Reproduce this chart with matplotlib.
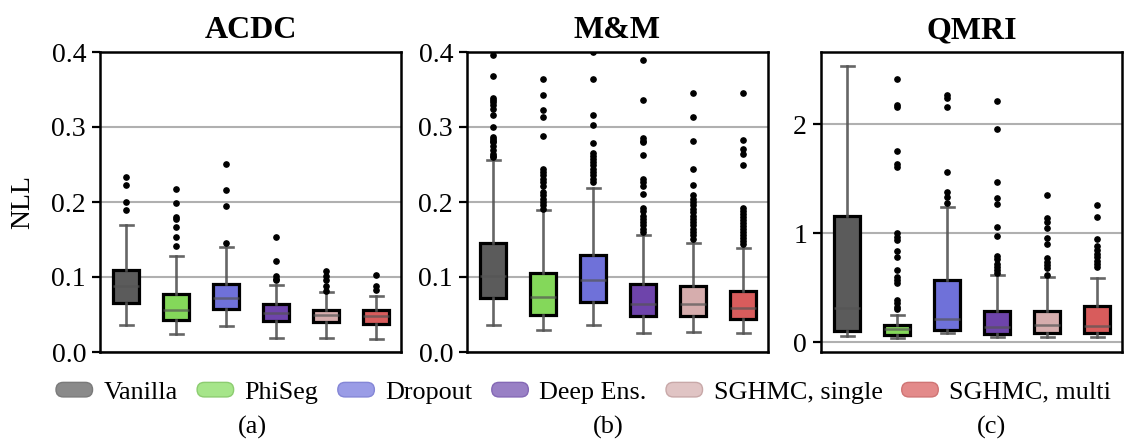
import matplotlib
matplotlib.use("Agg")
import matplotlib.pyplot as plt
from matplotlib.patches import FancyBboxPatch, Patch
from matplotlib.legend_handler import HandlerPatch

plt.rcParams['font.family'] = ['Liberation Serif', 'DejaVu Serif']

methods = ["Vanilla", "PhiSeg", "Dropout", "Deep Ens.", "SGHMC, single", "SGHMC, multi"]
box_colors = ["#5b5b5b", "#84d85a", "#6f71d9", "#6e44ab", "#d6adad", "#d85c5c"]
legend_colors = ["#8a8a8a", "#a6e58a", "#9a9ce6", "#9980c5", "#e0c4c4", "#e38a8a"]
legend_edges = ["#7a7a7a", "#8ccc70", "#8486d6", "#8468b5", "#c8a8a8", "#cf7474"]
datasets = ["ACDC", "M&M", "QMRI"]
captions = ["(a)", "(b)", "(c)"]

# ACDC
acdc_q1 = [0.066, 0.043, 0.057, 0.042, 0.040, 0.038]
acdc_med = [0.088, 0.056, 0.072, 0.052, 0.049, 0.048]
acdc_q3 = [0.110, 0.078, 0.091, 0.064, 0.056, 0.056]
acdc_lo = [0.036, 0.024, 0.035, 0.019, 0.019, 0.018]
acdc_hi = [0.170, 0.128, 0.140, 0.089, 0.080, 0.075]
acdc_fliers = [
    [0.233, 0.223, 0.200, 0.190],
    [0.217, 0.199, 0.180, 0.178, 0.167, 0.153, 0.141],
    [0.251, 0.216, 0.195, 0.145],
    [0.154, 0.122, 0.101, 0.098, 0.096],
    [0.108, 0.102, 0.096, 0.088, 0.081],
    [0.103, 0.088, 0.083],
]

# M&M
mm_q1 = [0.072, 0.049, 0.067, 0.048, 0.048, 0.044]
mm_med = [0.101, 0.073, 0.096, 0.064, 0.064, 0.059]
mm_q3 = [0.146, 0.105, 0.130, 0.091, 0.088, 0.082]
mm_lo = [0.036, 0.029, 0.036, 0.025, 0.027, 0.025]
mm_hi = [0.256, 0.189, 0.219, 0.156, 0.146, 0.139]
mm_fliers = [
    [0.396, 0.368, 0.338, 0.336, 0.333, 0.329, 0.324, 0.316, 0.300, 0.287, 0.284,
     0.282, 0.280, 0.275, 0.269, 0.264, 0.262, 0.260],
    [0.364, 0.343, 0.323, 0.314, 0.288, 0.244, 0.240, 0.236, 0.231, 0.227, 0.222,
     0.213, 0.209, 0.204, 0.200, 0.196, 0.191],
    [0.400, 0.364, 0.316, 0.303, 0.278, 0.265, 0.262, 0.258, 0.253, 0.249, 0.244,
     0.240, 0.236, 0.231, 0.227],
    [0.389, 0.336, 0.285, 0.282, 0.280, 0.263, 0.231, 0.227, 0.222, 0.211, 0.192,
     0.188, 0.182, 0.178, 0.173, 0.169, 0.164, 0.160],
    [0.345, 0.314, 0.282, 0.244, 0.223, 0.210, 0.204, 0.200, 0.196, 0.191, 0.187,
     0.182, 0.178, 0.173, 0.169, 0.164, 0.160, 0.156, 0.151],
    [0.346, 0.283, 0.271, 0.264, 0.249, 0.192, 0.188, 0.184, 0.180, 0.176, 0.172,
     0.168, 0.164, 0.160, 0.156, 0.152, 0.148, 0.144],
]

# QMRI
qmri_q1 = [0.107, 0.067, 0.110, 0.073, 0.082, 0.082]
qmri_med = [0.314, 0.119, 0.216, 0.137, 0.162, 0.149]
qmri_q3 = [1.159, 0.155, 0.570, 0.290, 0.290, 0.332]
qmri_lo = [0.058, 0.037, 0.082, 0.046, 0.049, 0.049]
qmri_hi = [2.534, 0.247, 1.235, 0.613, 0.594, 0.585]
qmri_fliers = [
    [],
    [2.41, 2.17, 2.155, 1.753, 1.637, 1.607, 0.997, 0.967, 0.936, 0.838, 0.777,
     0.662, 0.600, 0.570, 0.540, 0.387, 0.357, 0.326, 0.302],
    [2.262, 2.241, 2.16, 1.558, 1.375, 1.332, 1.28],
    [2.207, 1.957, 1.47, 1.326, 1.265, 1.055, 0.973, 0.79, 0.76, 0.72, 0.69, 0.66, 0.63],
    [1.345, 1.134, 1.104, 1.049, 0.951, 0.899, 0.768, 0.738, 0.707, 0.677, 0.619],
    [1.259, 1.146, 0.945, 0.88, 0.845, 0.808, 0.777, 0.747, 0.716, 0.692],
]

all_stats = [
    (acdc_q1, acdc_med, acdc_q3, acdc_lo, acdc_hi, acdc_fliers),
    (mm_q1, mm_med, mm_q3, mm_lo, mm_hi, mm_fliers),
    (qmri_q1, qmri_med, qmri_q3, qmri_lo, qmri_hi, qmri_fliers),
]
ylims = [(0, 0.4), (0, 0.4), (-0.09, 2.66)]
yticks = [[0.0, 0.1, 0.2, 0.3, 0.4], [0.0, 0.1, 0.2, 0.3, 0.4], [0, 1, 2]]
yticklabels = [["0.0", "0.1", "0.2", "0.3", "0.4"], ["0.0", "0.1", "0.2", "0.3", "0.4"], ["0", "1", "2"]]

fig = plt.figure(figsize=(11.32, 4.41), dpi=100)
lefts = [100 / 1132, 467 / 1132, 821 / 1132]
w = 301 / 1132
b = 89 / 441
h = 300 / 441
cap_x = [252 / 1132, 608 / 1132, 991 / 1132]

for i in range(3):
    ax = fig.add_axes([lefts[i], b, w, h])
    q1, med, q3, lo, hi, fl = all_stats[i]
    stats = []
    for j in range(len(methods)):
        stats.append(dict(q1=q1[j], med=med[j], q3=q3[j], whislo=lo[j], whishi=hi[j],
                          fliers=fl[j], label=methods[j]))
    bp = ax.bxp(stats, positions=list(range(len(methods))), widths=0.52,
                patch_artist=True, showfliers=True,
                boxprops=dict(edgecolor="black", linewidth=2.3),
                whiskerprops=dict(color="#555555", linewidth=1.9, alpha=0.9),
                capprops=dict(color="#555555", linewidth=1.9, alpha=0.9),
                medianprops=dict(color="#555555", linewidth=1.8, alpha=0.7),
                flierprops=dict(marker="o", markerfacecolor="black", markeredgecolor="black",
                                markersize=3.8, linestyle="none"))
    for patch, c in zip(bp["boxes"], box_colors):
        patch.set_facecolor(c)
        patch.set_zorder(2)
    for el in bp["medians"]:
        el.set_zorder(3)
    ax.set_xlim(-0.52, 5.5)
    ax.set_ylim(*ylims[i])
    ax.set_yticks(yticks[i])
    ax.set_yticklabels(yticklabels[i])
    ax.set_xticks([])
    ax.yaxis.grid(True, color="#b0b0b0", linewidth=1.5)
    ax.set_axisbelow(True)
    for s in ax.spines.values():
        s.set_linewidth(1.8)
        s.set_color("black")
    ax.tick_params(axis="y", labelsize=20, length=6, width=1.6, pad=4)
    ax.set_title(datasets[i], fontsize=23, fontweight="bold", pad=10)
    if i == 0:
        ax.set_ylabel("NLL", fontsize=20, labelpad=12)
    fig.text(cap_x[i], 0.03, captions[i], ha="center", va="center", fontsize=19)


class RoundHandler(HandlerPatch):
    def create_artists(self, legend, orig_handle, xdescent, ydescent, width, height, fontsize, trans):
        p = FancyBboxPatch((-xdescent, -ydescent), width, height,
                           boxstyle="round,pad=0,rounding_size=%f" % (height / 2),
                           facecolor=orig_handle.get_facecolor(),
                           edgecolor=orig_handle.get_edgecolor(), linewidth=1.0,
                           transform=trans)
        return [p]


handles = [Patch(facecolor=c, edgecolor=e) for c, e in zip(legend_colors, legend_edges)]
fig.legend(handles, methods, loc="center left", bbox_to_anchor=(56 / 1132, 0.109), ncol=6,
           frameon=False, fontsize=18.8, handlelength=1.4, handleheight=0.48,
           handletextpad=0.42, columnspacing=0.74, borderpad=0, borderaxespad=0,
           handler_map={Patch: RoundHandler()})

fig.savefig("out.png", dpi=100)
